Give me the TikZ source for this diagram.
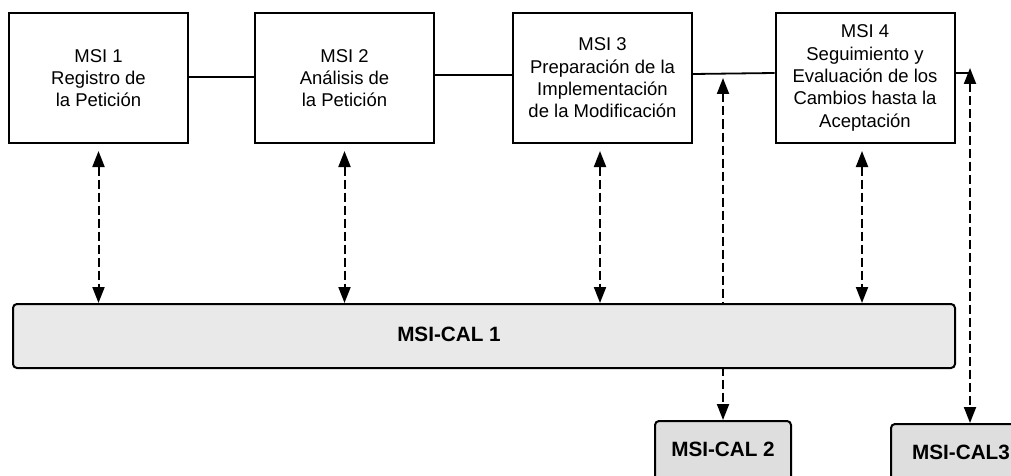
\documentclass[tikz,border=0pt]{standalone}
\usepackage{fontspec}
\setmainfont{Liberation Sans}
\usetikzlibrary{arrows.meta}
\definecolor{calone}{HTML}{E9E9E9}
\definecolor{caltwo}{HTML}{DEDEDE}
\tikzset{
  msibox/.style={draw, line width=2pt, minimum width=179pt, minimum height=130pt, inner sep=0pt, align=center, font=\fontsize{18.5}{22.3}\selectfont},
  calbox/.style={draw, line width=2pt, rounded corners=4pt, inner sep=0pt},
  caltext/.style={font=\fontsize{20.7}{22}\selectfont\bfseries, inner sep=0pt},
  link/.style={line width=1.8pt},
  dasharrow/.style={line width=2pt, dash pattern=on 9pt off 4pt, {Triangle[length=16pt,width=12pt]}-{Triangle[length=16pt,width=12pt]}}
}
\begin{document}
\begin{tikzpicture}[x=1pt,y=-1pt]
\useasboundingbox (0,0) rectangle (1011,476);
% top boxes
\node[msibox] (m1) at (98.5,78) {MSI 1\\Registro de\\la Petición};
\node[msibox] (m2) at (344.5,78) {MSI 2\\Análisis de\\la Petición};
\node[msibox] (m3) at (602.5,78) {MSI 3\\Preparación de la\\Implementación\\de la Modificación};
\node[msibox] (m4) at (865,78) {MSI 4\\Seguimiento y\\Evaluación de los\\Cambios hasta la\\Aceptación};
% horizontal links
\draw[link] (m1.east |- 0,77) -- (m2.west |- 0,77);
\draw[link] (m2.east |- 0,75) -- (m3.west |- 0,75);
\draw[link] (m3.east |- 0,74) -- (m4.west |- 0,73);
\coordinate (r4) at (969,73);
\draw[link] (m4.east |- 0,73) -- (r4);
% lower boxes
\coordinate (t2) at (723,78);
\coordinate (t3) at (970,68);
\node[calbox, fill=caltwo, minimum width=136pt, minimum height=80pt, anchor=north] (c2) at (723,420) {};
\node[calbox, fill=caltwo, minimum width=150pt, minimum height=80pt, anchor=north west] (c3) at (890,423) {};
\draw[dasharrow] (t2) -- (c2.north);
\draw[dasharrow] (t3) -- (t3 |- c3.north);
\node[calbox, fill=calone, minimum width=942pt, minimum height=64pt, anchor=north west] (c1) at (12,303) {};
\node[caltext] (c1t) at (449,334) {MSI-CAL 1};
\node[caltext] (c2t) at (723,449) {MSI-CAL 2};
\node[caltext] (c3t) at (961,452) {MSI-CAL3};
% vertical dashed arrows
\draw[dasharrow] (m1.south |- 0,151) -- (m1.south |- c1.north);
\draw[dasharrow] (m2.south |- 0,151) -- (m2.south |- c1.north);
\draw[dasharrow] (600,151) -- (600,303);
\draw[dasharrow] (862,151) -- (862,303);
\end{tikzpicture}
\end{document}
